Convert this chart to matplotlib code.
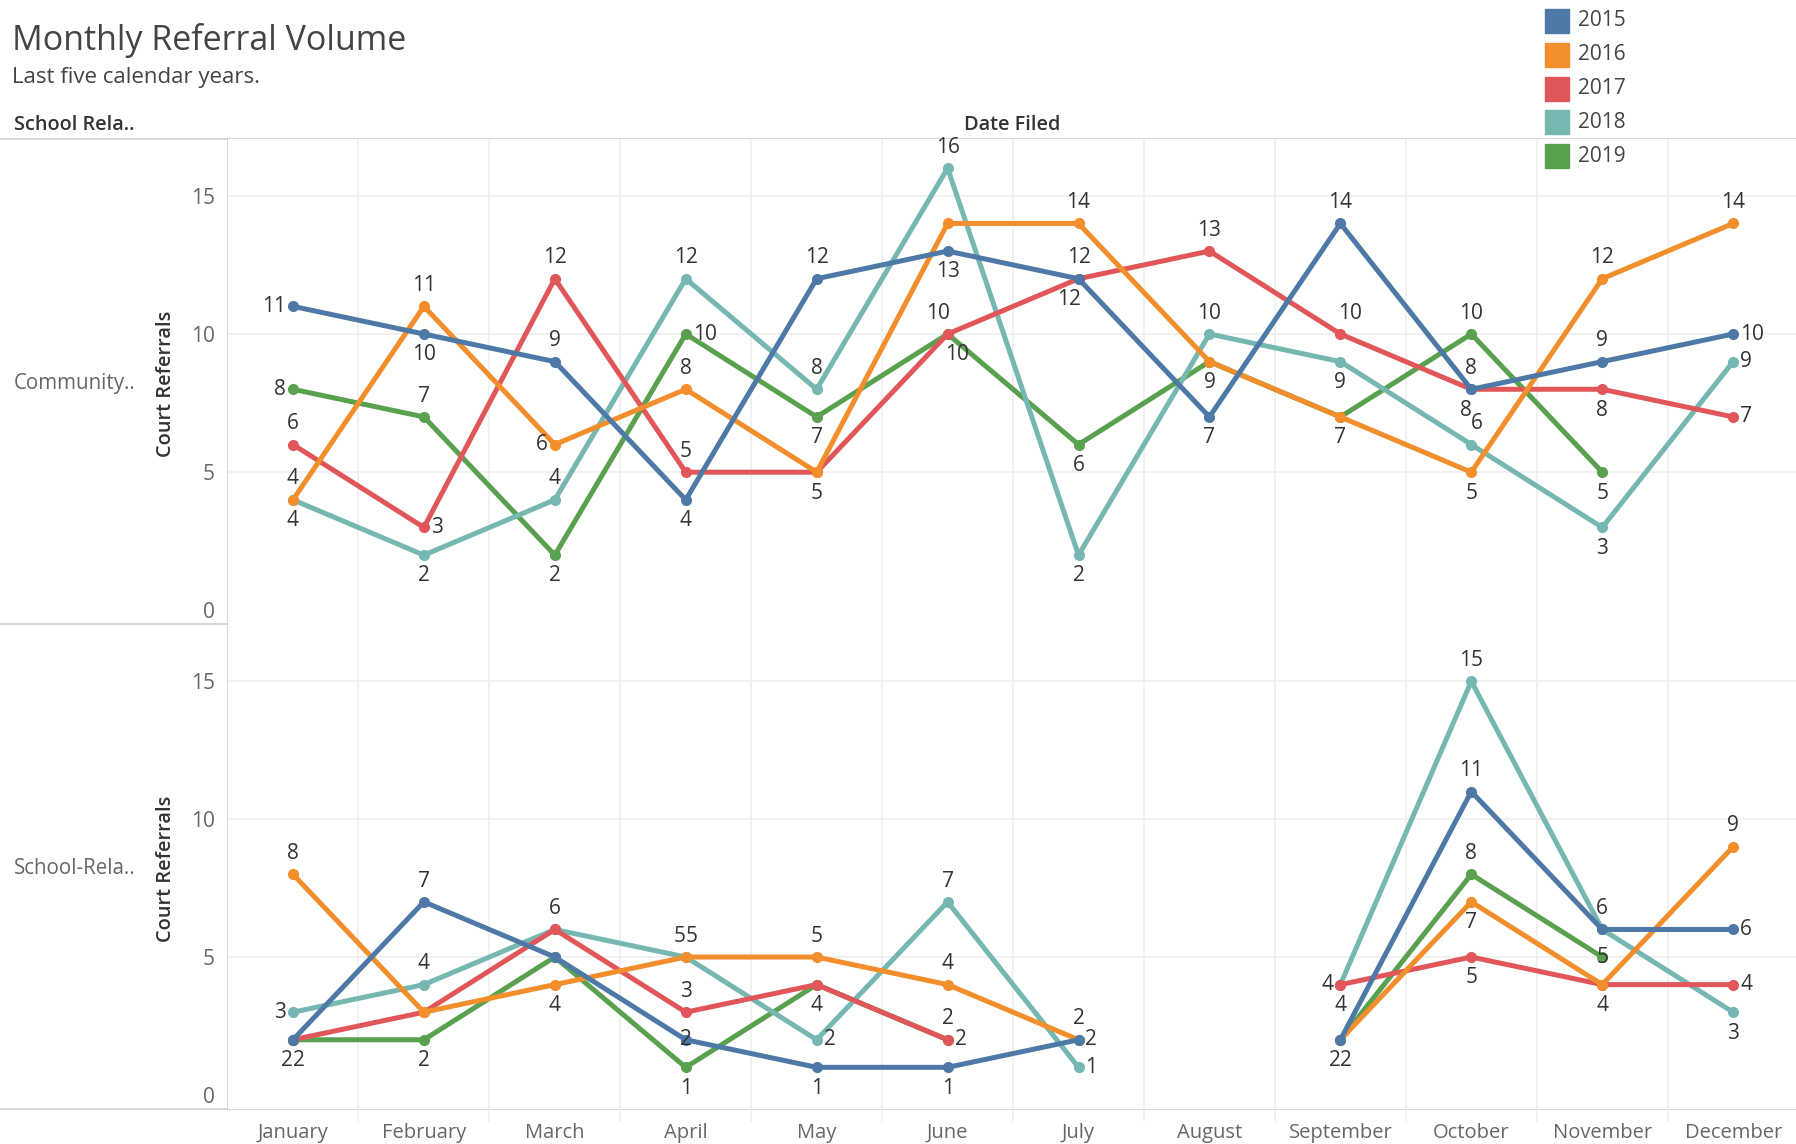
import matplotlib
matplotlib.use("Agg")
import matplotlib.pyplot as plt
from matplotlib.lines import Line2D
from matplotlib.patches import Rectangle
import numpy as np

nan = np.nan

# ---------------- data ----------------
months = ["January", "February", "March", "April", "May", "June", "July",
          "August", "September", "October", "November", "December"]
years = ["2015", "2016", "2017", "2018", "2019"]
colors = ["#4e79a7", "#f28e2b", "#e15759", "#76b7b2", "#59a14f"]
row_labels = ["Community..", "School-Rela.."]

community_2015 = [11, 10, 9, 4, 12, 13, 12, 7, 14, 8, 9, 10]
community_2016 = [4, 11, 6, 8, 5, 14, 14, 9, 7, 5, 12, 14]
community_2017 = [6, 3, 12, 5, 5, 10, 12, 13, 10, 8, 8, 7]
community_2018 = [4, 2, 4, 12, 8, 16, 2, 10, 9, 6, 3, 9]
community_2019 = [8, 7, 2, 10, 7, 10, 6, 9, 7, 10, 5, nan]

school_2015 = [2, 7, 5, 2, 1, 1, 2, nan, 2, 11, 6, 6]
school_2016 = [8, 3, 4, 5, 5, 4, 2, nan, 2, 7, 4, 9]
school_2017 = [2, 3, 6, 3, 4, 2, nan, nan, 4, 5, 4, 4]
school_2018 = [3, 4, 6, 5, 2, 7, 1, nan, 4, 15, 6, 3]
school_2019 = [2, 2, 5, 1, 4, 2, nan, nan, 2, 8, 5, nan]

# label placement codes (a above, b below, l left, r right, c centre,
# u/v above shifted left/right, x/y below shifted left/right,
# U/V above shifted more, X/D below shifted more, n none)
community_pos = ["lbabababaaar", "aalabnabbbaa", "araanUXaVxbr",
                 "bbaaaababvbr", "labrbDbnnabn"]
school_pos = ["xancbbrnxaar", "anbuaaanybba", "nnaanrnnlbnr",
              "lanvrarnbanb", "ybnbbannnacn"]

community = [community_2015, community_2016, community_2017, community_2018, community_2019]
school = [school_2015, school_2016, school_2017, school_2018, school_2019]

# ---------------- layout ----------------
W, H = 1796, 1144
fig = plt.figure(figsize=(W / 100, H / 100), dpi=100)
FONT = ["Open Sans", "DejaVu Sans"]
plt.rcParams["font.family"] = FONT

PL, PR = 227.5, 1796
T1, B1 = 138.6, 624.2
T2, B2 = 624.2, 1108.7


def rect(l, t, r, b):
    return [l / W, 1 - b / H, (r - l) / W, (b - t) / H]


def fline(x0, y0, x1, y1, color="#cfcfcf", lw=1.2):
    fig.add_artist(Line2D([x0 / W, x1 / W], [1 - y0 / H, 1 - y1 / H],
                          transform=fig.transFigure, color=color, lw=lw, zorder=0))


offs = {"a": (0, 15, "center"), "b": (0, -15, "center"),
        "l": (-5, 0, "right"), "r": (5, 0, "left"), "c": (0, 0, "center"),
        "u": (-4.2, 15, "center"), "v": (4.2, 15, "center"),
        "x": (-4.2, -15, "center"), "y": (4.2, -15, "center"),
        "U": (-7, 15, "center"), "V": (7, 15, "center"),
        "X": (-7, -15, "center"), "D": (7, -15, "center")}


def draw_panel(ax, series, positions, show_x):
    ax.set_xlim(-0.5, 11.48)
    ax.set_ylim(-0.5, 17.07)
    for s in ax.spines.values():
        s.set_visible(False)
    for yv in [5, 10, 15]:
        ax.axhline(yv, color="#efefef", lw=1.2, zorder=0)
    for xv in np.arange(0.5, 11, 1):
        ax.axvline(xv, color="#efefef", lw=1.2, zorder=0)
    x = np.arange(len(months))
    n = len(series)
    for k in range(n):
        vals = np.array(series[k], dtype=float)
        z = 10 + (n - k) * 2
        ax.plot(x, vals, color=colors[k], lw=3.6, marker="o", markersize=7,
                solid_capstyle="round", zorder=z)
    for k in range(n):
        vals = series[k]
        for i, v in enumerate(vals):
            code = positions[k][i]
            if code == "n" or np.isnan(v):
                continue
            dx, dy, ha = offs[code]
            ax.annotate(f"{int(v)}", (i, v), xytext=(dx, dy), textcoords="offset points",
                        ha=ha, va="center", fontsize=15, color="#333333", zorder=40)
    ax.set_yticks([0, 5, 10, 15])
    ax.tick_params(axis="y", length=0, pad=9, labelsize=15, labelcolor="#666666")
    ax.set_xticks(x)
    if show_x:
        ax.set_xticklabels(months)
        ax.tick_params(axis="x", length=0, pad=10, labelsize=14.5, labelcolor="#666666")
    else:
        ax.set_xticklabels([])
        ax.tick_params(axis="x", length=0)
    ax.grid(False)


ax1 = fig.add_axes(rect(PL, T1, PR, B1))
ax2 = fig.add_axes(rect(PL, T2, PR, B2))
draw_panel(ax1, community, community_pos, False)
draw_panel(ax2, school, school_pos, True)

# borders
fline(0, T1, W, T1)
fline(0, B1, W, B1)
fline(0, B2, W, B2)
fline(PL, T1, PL, B2)
for xv in np.arange(0.5, 11, 1):
    xp = PL + (xv + 0.5) / (11.48 + 0.5) * (PR - PL)
    fline(xp, B2, xp, B2 + 12, color="#efefef")

# headers / titles
fig.text(12 / W, 1 - 41 / H, "Monthly Referral Volume", fontsize=24.5,
         color="#444444", ha="left", va="center")
fig.text(12 / W, 1 - 77.5 / H, "Last five calendar years.", fontsize=16,
         color="#444444", ha="left", va="center")
fig.text(14 / W, 1 - 125.5 / H, "School Rela..", fontsize=14.3, fontweight="semibold",
         color="#333333", ha="left", va="center")
fig.text((PL + PR) / 2 / W, 1 - 125.5 / H, "Date Filed", fontsize=14.3, fontweight="semibold",
         color="#333333", ha="center", va="center")

for (t, b), lab in zip([(T1, B1), (T2, B2)], row_labels):
    yc = 1 - ((t + b) / 2 + 2) / H
    fig.text(14 / W, yc, lab, fontsize=14.8, color="#666666", ha="left", va="center")
    fig.text(166 / W, yc, "Court Referrals", fontsize=14.4, fontweight="semibold",
             color="#333333", ha="center", va="center", rotation=90)

# legend
leg_y = [21, 55, 89, 122, 156]
for k, yr in enumerate(years):
    fig.add_artist(Rectangle((1545 / W, 1 - (leg_y[k] + 12) / H), 24 / W, 24 / H,
                             transform=fig.transFigure, color=colors[k], zorder=50))
    fig.text(1578 / W, 1 - leg_y[k] / H, yr, fontsize=15, color="#444444",
             ha="left", va="center", zorder=50)

fig.savefig("out.png", dpi=100)
